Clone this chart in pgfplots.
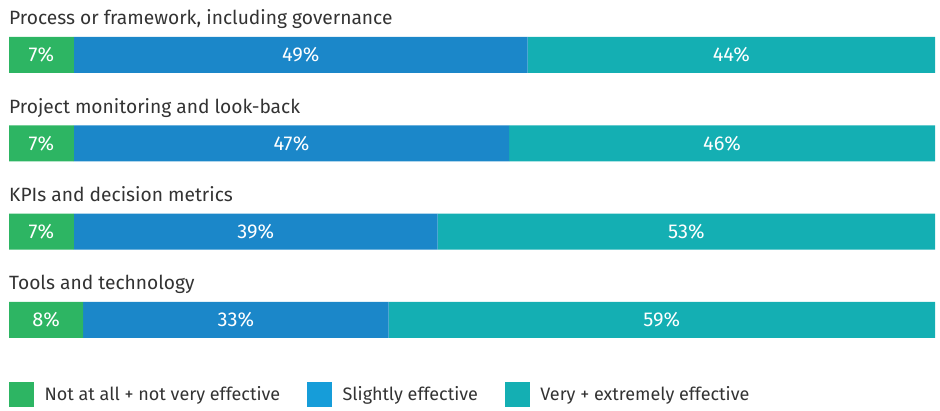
\documentclass[border=0pt]{standalone}
\usepackage{pgfplots}
\usepackage{pgfplotstable}
\pgfplotsset{compat=1.18}
\usepackage{fontspec}
\setmainfont{Fira Sans}

\definecolor{cgreen}{HTML}{2DB563}
\definecolor{cblue}{HTML}{1B87C9}
\definecolor{cblueleg}{HTML}{169DD9}
\definecolor{cteal}{HTML}{14AFB3}
\definecolor{ctext}{HTML}{333333}

% cat: 0 = top bar; val = bar width, lab = printed value
\pgfplotstableread{
cat val lab
0 7   7
1 7   7
2 7   7
3 8   8
}\notatall
\pgfplotstableread{
cat val  lab
0 49   49
1 47   47
2 39.3 39
3 33   33
}\slightly
\pgfplotstableread{
cat val  lab
0 44   44
1 46   46
2 53.7 53
3 59   59
}\very

\begin{document}
\begin{tikzpicture}
\begin{axis}[
    at={(0,0)}, anchor=south west,
    scale only axis, width=940pt, height=410pt,
    xmin=-0.972, xmax=100.54,
    ymin=-0.6226, ymax=4.019, y dir=reverse,
    enlargelimits=false,
    hide axis, clip=false,
    xbar stacked, bar width=36pt,
    /pgf/number format/assume math mode=true,
    legend columns=3,
    legend image code/.code={\fill[#1] (0pt,-12pt) rectangle (24pt,12pt);},
    legend style={at={(0.0096,0.039)}, anchor=west, draw=none, fill=none,
        inner sep=0pt, text=ctext, font=\fontsize{18}{20}\selectfont,
        /tikz/every odd column/.append style={column sep=9pt},
        /tikz/every even column/.append style={column sep=25pt},
        /tikz/column 4/.append style={column sep=35pt}},
]
\addplot[draw=none, fill=cgreen, forget plot,
    point meta=explicit,
    nodes near coords={\pgfmathprintnumber{\pgfplotspointmeta}\%},
    every node near coord/.append style={anchor=center, text=white,
        font=\fontsize{20}{22}\selectfont}]
    table[x=val, y=cat, meta=lab] {\notatall};
\addplot[draw=none, fill=cblue, forget plot,
    point meta=explicit,
    nodes near coords={\pgfmathprintnumber{\pgfplotspointmeta}\%},
    every node near coord/.append style={anchor=center, text=white,
        font=\fontsize{20}{22}\selectfont}]
    table[x=val, y=cat, meta=lab] {\slightly};
\addplot[draw=none, fill=cteal, forget plot,
    point meta=explicit,
    nodes near coords={\pgfmathprintnumber{\pgfplotspointmeta}\%},
    every node near coord/.append style={anchor=center, text=white,
        font=\fontsize{20}{22}\selectfont}]
    table[x=val, y=cat, meta=lab] {\very};

\addlegendimage{cgreen}
\addlegendentry{Not at all + not very effective}
\addlegendimage{cblueleg}
\addlegendentry{Slightly effective}
\addlegendimage{cteal}
\addlegendentry{Very + extremely effective}

\node[anchor=base west, inner sep=0pt, text=ctext, font=\fontsize{19.2}{21}\selectfont, yshift=30pt]
    at (axis cs:0,0) {Process or framework, including governance};
\node[anchor=base west, inner sep=0pt, text=ctext, font=\fontsize{19.2}{21}\selectfont, yshift=30pt]
    at (axis cs:0,1) {Project monitoring and look-back};
\node[anchor=base west, inner sep=0pt, text=ctext, font=\fontsize{19.2}{21}\selectfont, yshift=30pt]
    at (axis cs:0,2) {KPIs and decision metrics};
\node[anchor=base west, inner sep=0pt, text=ctext, font=\fontsize{19.2}{21}\selectfont, yshift=30pt]
    at (axis cs:0,3) {Tools and technology};
\end{axis}
\pgfresetboundingbox
\path (0,0) rectangle (940pt,410pt);
\end{tikzpicture}
\end{document}
